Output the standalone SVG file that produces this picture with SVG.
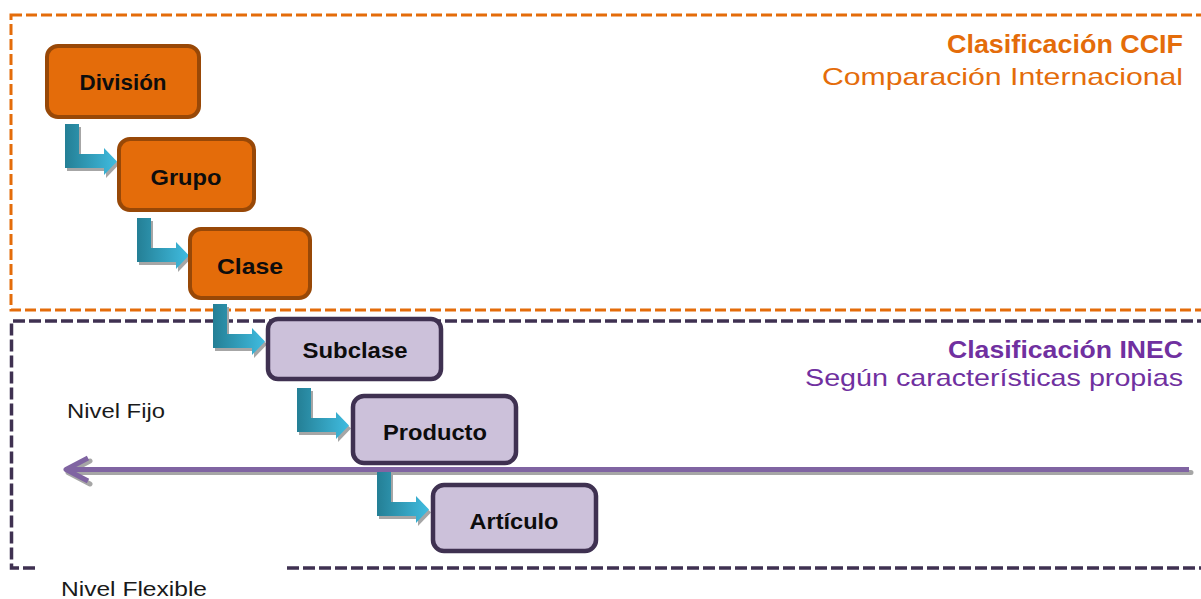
<svg xmlns="http://www.w3.org/2000/svg" width="1201" height="599" viewBox="0 0 1201 599">
<style>
.frame-o{fill:none;stroke:#E46C0A;stroke-width:3;stroke-dasharray:11 4}
.frame-p{fill:none;stroke:#3F3151;stroke-width:3.5;stroke-dasharray:12 4}
.ob{fill:#E46C0A;stroke:#984807;stroke-width:4}
.pb{fill:#CCC1DA;stroke:#3F3151;stroke-width:4.5}
.lbl{font-family:"Liberation Sans",Arial,sans-serif;font-weight:bold;font-size:22px;fill:#0D0D0D;text-anchor:middle}
.ttl{font-family:"Liberation Sans",Arial,sans-serif;text-anchor:end}
.note{font-family:"Liberation Sans",Arial,sans-serif;font-size:20px;fill:#1A1A1A}
</style>
<defs>
<linearGradient id="tg" x1="0" y1="0" x2="1" y2="0">
<stop offset="0" stop-color="#247F95"/>
<stop offset="1" stop-color="#40BCE0"/>
</linearGradient>
<path id="bent" d="M0,0 H14 V30 H39 V24 L52,37.5 L39,51 V44 H0 Z"/>
<g id="barrow">
<use href="#bent" x="2" y="3" fill="#A6A6A6"/>
<use href="#bent" fill="url(#tg)"/>
</g>
</defs>
<rect width="1201" height="599" fill="#FFFFFF"/>
<g id="frames">
<rect class="frame-o" x="11" y="15" width="1200" height="295"/>
<path class="frame-p" d="M35,568 H11.5 V321 H1205"/>
<path class="frame-p" d="M287,568 H1205"/>
</g>
<g id="titles">
<text class="ttl" x="1183" y="53" font-size="25" font-weight="bold" fill="#E46C0A" textLength="236" lengthAdjust="spacingAndGlyphs">Clasificación CCIF</text>
<text class="ttl" x="1183" y="85" font-size="24" fill="#E46C0A" textLength="361" lengthAdjust="spacingAndGlyphs">Comparación Internacional</text>
<text class="ttl" x="1183" y="358" font-size="24" font-weight="bold" fill="#7030A0" textLength="235" lengthAdjust="spacingAndGlyphs">Clasificación INEC</text>
<text class="ttl" x="1183" y="386" font-size="24" fill="#7030A0" textLength="378" lengthAdjust="spacingAndGlyphs">Según características propias</text>
<text class="note" x="67" y="418" textLength="98" lengthAdjust="spacingAndGlyphs">Nivel Fijo</text>
<text class="note" x="61" y="596" textLength="146" lengthAdjust="spacingAndGlyphs">Nivel Flexible</text>
</g>
<g id="connectors">
<use href="#barrow" x="65" y="124"/>
<use href="#barrow" x="137" y="218"/>
<use href="#barrow" x="213" y="304"/>
<use href="#barrow" x="297" y="388"/>
<g id="level-arrow" fill="none" stroke-width="5" stroke-linecap="round" stroke-linejoin="round">
<path d="M1191,472.5 H70 M90,461 L68,472.5 L90,484" stroke="#A6A6A6"/>
<path d="M1189,469.5 H68 M88,458 L66,469.5 L88,481" stroke="#8064A2" stroke-linecap="butt"/>
</g>
<use href="#barrow" x="377" y="472"/>
</g>
<g id="node-division">
<rect class="ob" x="47" y="46" width="152" height="71" rx="11"/>
<text class="lbl" x="123" y="90" textLength="87" lengthAdjust="spacingAndGlyphs">División</text>
</g>
<g id="node-grupo">
<rect class="ob" x="119" y="139" width="135" height="71" rx="11"/>
<text class="lbl" x="186" y="185" textLength="71" lengthAdjust="spacingAndGlyphs">Grupo</text>
</g>
<g id="node-clase">
<rect class="ob" x="190" y="229" width="120" height="69" rx="11"/>
<text class="lbl" x="250" y="274" textLength="66" lengthAdjust="spacingAndGlyphs">Clase</text>
</g>
<g id="node-subclase">
<rect class="pb" x="268" y="319" width="173" height="60" rx="10"/>
<text class="lbl" x="355" y="358" textLength="105" lengthAdjust="spacingAndGlyphs">Subclase</text>
</g>
<g id="node-producto">
<rect class="pb" x="353" y="396" width="163" height="67" rx="11"/>
<text class="lbl" x="435" y="440" textLength="104" lengthAdjust="spacingAndGlyphs">Producto</text>
</g>
<g id="node-articulo">
<rect class="pb" x="433" y="485" width="163" height="66" rx="11"/>
<text class="lbl" x="514" y="529" textLength="89" lengthAdjust="spacingAndGlyphs">Artículo</text>
</g>
</svg>
